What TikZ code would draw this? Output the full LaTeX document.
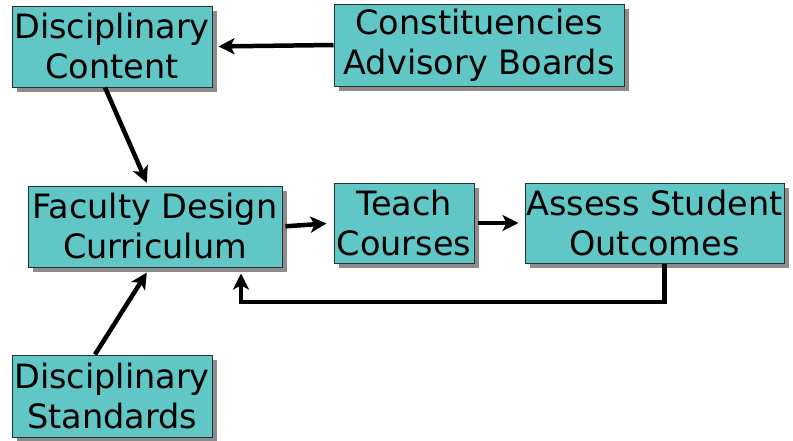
\documentclass[tikz,border=0pt]{standalone}
\usepackage{fontspec}
\setmainfont{DejaVu Sans}
\usepackage{tikz}
\usetikzlibrary{arrows.meta, shadows}

\definecolor{boxteal}{RGB}{96,198,198}
\definecolor{boxedge}{RGB}{40,50,50}

\begin{document}
\begin{tikzpicture}[x=1pt, y=-1pt,
        block/.style={draw=boxedge, line width=1pt, fill=boxteal, align=center,
            inner sep=0pt, font=\fontsize{33.5}{40}\selectfont,
            drop shadow={shadow xshift=5pt, shadow yshift=-5pt, fill=black!45, opacity=1}},
        flow/.style={line width=4.5pt, -{Stealth[length=16pt, width=16pt, inset=4pt]}}]
    \useasboundingbox (0,0) rectangle (793,440);

    \node[block, minimum width=200pt, minimum height=81pt] (dc)  at (112,46.5)  {Disciplinary\\Content};
    \node[block, minimum width=290pt, minimum height=82pt] (cab) at (479,45)    {Constituencies\\Advisory Boards};
    \node[block, minimum width=254pt, minimum height=81pt] (fdc) at (155,226.5) {Faculty Design\\Curriculum};
    \node[block, minimum width=140pt, minimum height=80pt] (tc)  at (404,223)   {Teach\\Courses};
    \node[block, minimum width=259pt, minimum height=80pt] (aso) at (654.5,223) {Assess Student\\Outcomes};
    \node[block, minimum width=200pt, minimum height=82pt] (ds)  at (112,396)   {Disciplinary\\Standards};

    \coordinate (fb) at (241,302);

    \draw[flow, shorten >=6pt] (cab.west) -- (dc.east);
    \draw[flow, shorten >=3pt] ([xshift=-7pt]dc.south) -- ([xshift=-7pt]fdc.north);
    \draw[flow, shorten <=3pt, shorten >=7pt] (fdc.east) -- (tc.west);
    \draw[flow, shorten <=3pt, shorten >=6pt] (tc.east) -- (aso.west);
    \draw[flow, shorten >=6pt] ([xshift=10pt]aso.south) |- (fb) -- ([xshift=86pt]fdc.south);
    \draw[flow, shorten >=6pt] ([xshift=-17pt]ds.north) -- ([xshift=-5pt]fdc.south);
\end{tikzpicture}
\end{document}
